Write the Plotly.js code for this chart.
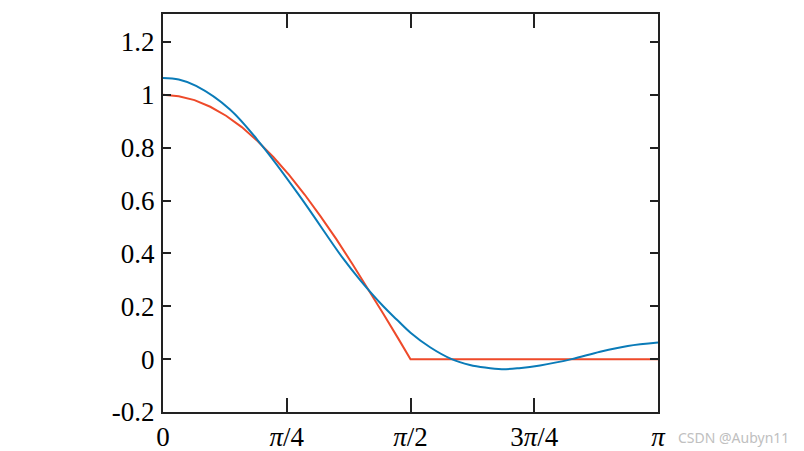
<!DOCTYPE html>
<html>
<head>
<meta charset="utf-8">
<script src="https://cdn.plot.ly/plotly-3.0.1.min.js"></script>
<style>html,body{margin:0;padding:0;background:#fff;}#chart{width:804px;height:451px;}</style>
</head>
<body>
<div id="chart"></div>
<script>
// Red curve (target function), x in radians
const redX = [0, 0.1, 0.2, 0.3, 0.4, 0.5, 0.6, 0.7, 0.8, 0.9, 1.0, 1.1, 1.2, 1.3, 1.4, 1.5, 1.5708, 3.1416];
const redY = [1.000, 0.995, 0.980, 0.955, 0.921, 0.878, 0.825, 0.765, 0.697, 0.622, 0.540, 0.454, 0.362, 0.267, 0.170, 0.071, 0.000, 0.000];
// Blue curve (approximation), x in radians
const blueX = [0, 0.100, 0.210, 0.425, 0.626, 0.870, 1.144, 1.250, 1.398, 1.483, 1.571, 1.695, 1.832, 1.948, 2.044, 2.150, 2.260, 2.393, 2.594, 2.774, 2.950, 3.1416];
const blueY = [1.064, 1.058, 1.034, 0.945, 0.810, 0.615, 0.380, 0.300, 0.200, 0.150, 0.100, 0.045, 0.000, -0.022, -0.032, -0.038, -0.034, -0.024, 0.000, 0.028, 0.050, 0.063];
// Tick labels
const xTickVals = [0, Math.PI/4, Math.PI/2, 3*Math.PI/4, Math.PI];
const xTickText = ['0', '<i>π</i>/4', '<i>π</i>/2', '3<i>π</i>/4', '<i>π</i>'];
const yTickVals = [-0.2, 0, 0.2, 0.4, 0.6, 0.8, 1, 1.2];
const yTickText = ['-0.2', '0', '0.2', '0.4', '0.6', '0.8', '1', '1.2'];

const traces = [
  {x: redX, y: redY, type: 'scatter', mode: 'lines', line: {color: '#ee4a2a', width: 2}, hoverinfo: 'skip'},
  {x: blueX, y: blueY, type: 'scatter', mode: 'lines', line: {color: '#0a7bb8', width: 2, shape: 'spline', smoothing: 1}, hoverinfo: 'skip'}
];

const font = {family: 'Times New Roman, Liberation Serif, Tinos, DejaVu Serif', size: 27, color: '#000'};

const layout = {
  width: 804, height: 451,
  margin: {l: 163, r: 146, t: 14, b: 39, pad: 0},
  paper_bgcolor: '#fff', plot_bgcolor: '#fff',
  showlegend: false,
  font: font,
  xaxis: {
    range: [0, Math.PI], tickvals: xTickVals, ticktext: xTickText,
    ticks: 'inside', ticklen: 14, tickwidth: 2, tickcolor: '#222',
    showline: true, linecolor: '#222', linewidth: 2, mirror: 'ticks',
    showgrid: false, zeroline: false, tickfont: font, ticklabelstandoff: 0
  },
  yaxis: {
    range: [-0.2, 1.306], tickvals: yTickVals, ticktext: yTickText,
    ticks: 'inside', ticklen: 8, tickwidth: 2, tickcolor: '#222',
    showline: true, linecolor: '#222', linewidth: 2, mirror: 'ticks',
    showgrid: false, zeroline: false, tickfont: font, ticklabelstandoff: 1
  },
  annotations: [{
    text: 'CSDN @Aubyn11', xref: 'paper', yref: 'paper', x: 1.036, y: -0.063,
    xanchor: 'left', yanchor: 'middle', showarrow: false,
    font: {family: 'Noto Sans, sans-serif', size: 14, color: '#c0c0c0'}
  }]
};

Plotly.newPlot('chart', traces, layout, {displayModeBar: false, staticPlot: true});
</script>
</body>
</html>
